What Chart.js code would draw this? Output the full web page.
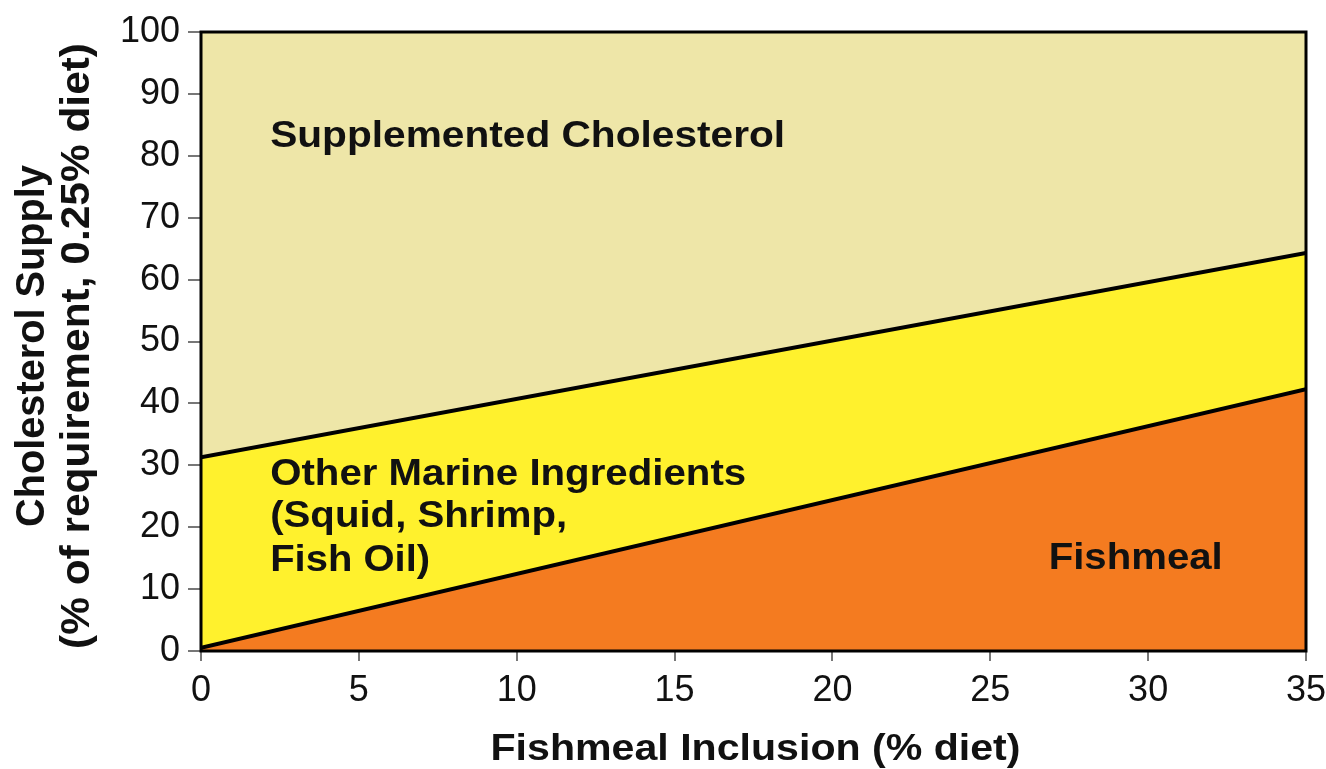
<!DOCTYPE html>
<html>
<head>
<meta charset="utf-8">
<script src="https://cdn.jsdelivr.net/npm/chart.js@4/dist/chart.umd.min.js"></script>
<style>
html,body{margin:0;padding:0;background:#fff;}
#wrap{width:1326px;height:769px;position:relative;}
</style>
</head>
<body>
<div id="wrap"><canvas id="c" width="1326" height="769"></canvas></div>
<script>
// ---- data ----
const xValues = [0, 35];
const fishmeal = [0.5, 42.3];
const marineTop = [31.3, 64.3];
const supplementedTop = [100, 100];
const xTickValues = [0, 5, 10, 15, 20, 25, 30, 35];
const yTickValues = [0, 10, 20, 30, 40, 50, 60, 70, 80, 90, 100];
const areaLabels = ["Supplemented Cholesterol", "Other Marine Ingredients", "(Squid, Shrimp,", "Fish Oil)", "Fishmeal"];
const xTitle = "Fishmeal Inclusion (% diet)";
const yTitleLines = ["Cholesterol Supply", "(% of requirement, 0.25% diet)"];

const toPts = arr => xValues.map((x, i) => ({x: x, y: arr[i]}));

const BOLD = "bold 37px 'Liberation Sans', Arial, sans-serif";

function fitText(ctx, text, x, y, targetW, rotate) {
  const w = ctx.measureText(text).width;
  const s = targetW / w;
  ctx.save();
  ctx.translate(x, y);
  if (rotate) {
    ctx.rotate(-Math.PI / 2);
    ctx.scale(s, 1.12);
  } else {
    ctx.scale(s, 1);
  }
  ctx.fillText(text, 0, 0);
  ctx.restore();
}

const textPlugin = {
  id: 'textPlugin',
  afterDraw(chart) {
    const ctx = chart.ctx;
    const xs = chart.scales.x, ys = chart.scales.y;
    const a = chart.chartArea;
    // frame
    ctx.save();
    ctx.strokeStyle = '#000';
    ctx.lineWidth = 3;
    ctx.strokeRect(a.left, a.top, a.right - a.left, a.bottom - a.top);
    ctx.restore();

    ctx.save();
    ctx.fillStyle = '#111';
    ctx.font = BOLD;
    ctx.textBaseline = 'alphabetic';
    ctx.textAlign = 'left';
    fitText(ctx, areaLabels[0], xs.getPixelForValue(2.19), ys.getPixelForValue(81.4), 515, false);
    fitText(ctx, areaLabels[1], xs.getPixelForValue(2.19), ys.getPixelForValue(26.8), 476, false);
    fitText(ctx, areaLabels[2], xs.getPixelForValue(2.19), ys.getPixelForValue(20.0), 297, false);
    fitText(ctx, areaLabels[3], xs.getPixelForValue(2.19), ys.getPixelForValue(12.9), 160, false);
    fitText(ctx, areaLabels[4], xs.getPixelForValue(26.85), ys.getPixelForValue(13.2), 174, false);

    // x title
    ctx.textAlign = 'center';
    fitText(ctx, xTitle, (a.left + a.right) / 2 + 2, 760, 530, false);
    // y title
    fitText(ctx, yTitleLines[0], 44, 346, 362, true);
    fitText(ctx, yTitleLines[1], 89, 346, 606, true);
    ctx.restore();
  }
};

new Chart(document.getElementById('c'), {
  type: 'line',
  data: {
    datasets: [
      {
        label: 'Fishmeal',
        data: toPts(fishmeal),
        borderColor: '#000',
        borderWidth: 4,
        backgroundColor: '#F47B20',
        fill: 'origin',
        pointRadius: 0,
        tension: 0
      },
      {
        label: 'Other Marine Ingredients',
        data: toPts(marineTop),
        borderColor: '#000',
        borderWidth: 4,
        backgroundColor: '#FFF12D',
        fill: '-1',
        pointRadius: 0,
        tension: 0
      },
      {
        label: 'Supplemented Cholesterol',
        data: toPts(supplementedTop),
        borderColor: 'rgba(0,0,0,0)',
        borderWidth: 0,
        backgroundColor: '#EEE6A8',
        fill: '-1',
        pointRadius: 0,
        tension: 0
      }
    ]
  },
  options: {
    responsive: false,
    animation: false,
    layout: {padding: {top: 32, right: 20, left: 0, bottom: 0}},
    plugins: {
      legend: {display: false},
      tooltip: {enabled: false},
      filler: {drawTime: 'beforeDatasetsDraw'}
    },
    scales: {
      x: {
        type: 'linear',
        min: 0, max: 35,
        afterBuildTicks: s => { s.ticks = xTickValues.map(v => ({value: v})); },
        afterFit: s => { s.height = 118; s.paddingLeft = 0; s.paddingRight = 0; },
        border: {display: false},
        grid: {drawOnChartArea: false, drawTicks: true, tickLength: 10, color: '#777', lineWidth: 2},
        ticks: {
          color: '#111',
          padding: 8,
          maxRotation: 0,
          autoSkip: false,
          font: {family: "'Liberation Sans', Arial, sans-serif", size: 36}
        }
      },
      y: {
        type: 'linear',
        min: 0, max: 100,
        afterBuildTicks: s => { s.ticks = yTickValues.map(v => ({value: v})); },
        afterFit: s => { s.width = 201; s.paddingTop = 0; s.paddingBottom = 0; },
        border: {display: false},
        grid: {drawOnChartArea: false, drawTicks: true, tickLength: 13, color: '#777', lineWidth: 2},
        ticks: {
          color: '#111',
          padding: 8,
          autoSkip: false,
          font: {family: "'Liberation Sans', Arial, sans-serif", size: 36}
        }
      }
    }
  },
  plugins: [textPlugin]
});
</script>
</body>
</html>
